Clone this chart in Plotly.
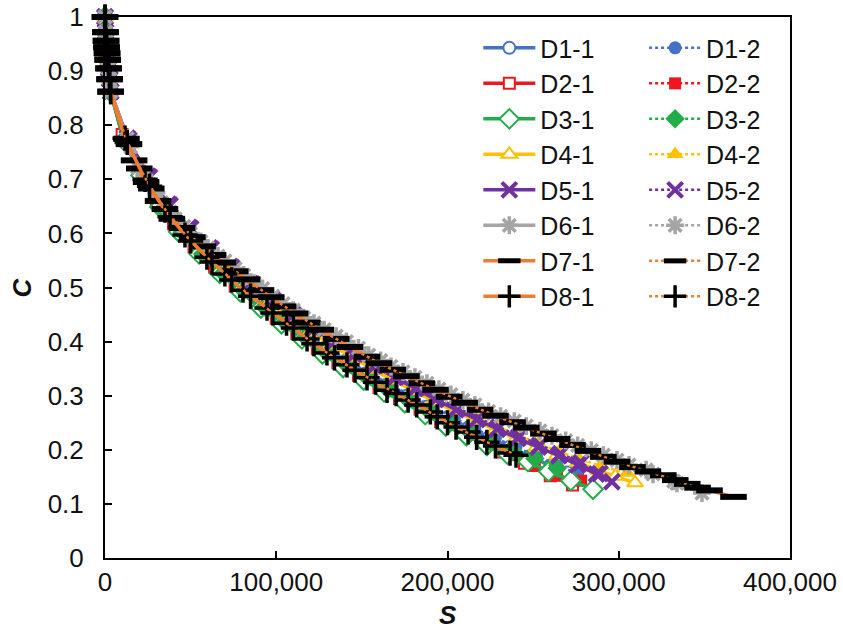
import plotly.graph_objects as go

# shared start of every curve (S close to 0)
head_s = [0, 300, 600, 900, 1200, 1600, 2100, 2700, 3300]
head_c = [1.0, 0.972, 0.956, 0.944, 0.933, 0.921, 0.905, 0.885, 0.862]

d1_1_s = [11000, 22000, 33000, 44000, 56000, 68000, 80000, 92000, 104000, 116000, 128000, 140000,
          152000, 164000, 176000, 188000, 200000, 212000, 224000, 236000, 248000, 260000, 270000]
d1_1_c = [0.772, 0.702, 0.650, 0.607, 0.567, 0.531, 0.498, 0.468, 0.440, 0.413, 0.388, 0.364,
          0.341, 0.320, 0.300, 0.280, 0.260, 0.241, 0.223, 0.205, 0.188, 0.171, 0.158]
d1_2_s = [12000, 24000, 36000, 48000, 60000, 72000, 84000, 96000, 108000, 120000, 132000, 144000,
          156000, 168000, 180000, 192000, 204000, 216000, 228000, 240000, 252000, 264000, 276000]
d1_2_c = [0.768, 0.695, 0.642, 0.598, 0.559, 0.524, 0.492, 0.463, 0.435, 0.409, 0.384, 0.361,
          0.339, 0.318, 0.298, 0.278, 0.258, 0.239, 0.222, 0.205, 0.188, 0.171, 0.156]

d2_1_s = [10000, 20000, 30000, 40000, 52000, 64000, 76000, 88000, 100000, 112000, 124000, 136000,
          148000, 160000, 172000, 184000, 196000, 208000, 220000, 232000, 245000, 260000, 273000]
d2_1_c = [0.783, 0.715, 0.662, 0.618, 0.575, 0.538, 0.503, 0.472, 0.443, 0.415, 0.387, 0.361,
          0.338, 0.315, 0.295, 0.275, 0.252, 0.232, 0.214, 0.196, 0.175, 0.152, 0.135]
d2_2_s = [13000, 24000, 35000, 46000, 58000, 70000, 82000, 94000, 106000, 118000, 130000, 142000,
          154000, 166000, 178000, 190000, 202000, 214000, 226000, 238000, 251000, 264000, 278000]
d2_2_c = [0.770, 0.697, 0.643, 0.600, 0.560, 0.525, 0.492, 0.462, 0.434, 0.406, 0.378, 0.355,
          0.331, 0.310, 0.290, 0.268, 0.247, 0.228, 0.210, 0.190, 0.170, 0.152, 0.143]

d3_1_s = [11000, 21000, 32000, 43000, 55000, 67000, 79000, 91000, 103000, 115000, 127000, 139000,
          151000, 163000, 175000, 187000, 199000, 211000, 223000, 235000, 247000, 259000, 272000, 285000]
d3_1_c = [0.772, 0.707, 0.649, 0.603, 0.562, 0.526, 0.492, 0.462, 0.433, 0.405, 0.377, 0.352,
          0.329, 0.307, 0.287, 0.265, 0.244, 0.226, 0.208, 0.192, 0.178, 0.160, 0.143, 0.127]
d3_2_s = [12000, 23000, 34000, 45000, 57000, 69000, 81000, 93000, 105000, 117000, 129000, 141000,
          153000, 165000, 177000, 189000, 201000, 213000, 225000, 238000, 251000, 264000]
d3_2_c = [0.770, 0.700, 0.645, 0.602, 0.562, 0.527, 0.494, 0.464, 0.436, 0.408, 0.381, 0.357,
          0.334, 0.312, 0.292, 0.272, 0.252, 0.233, 0.215, 0.198, 0.184, 0.166]

d4_1_s = [12000, 24000, 36000, 48000, 60000, 72000, 84000, 96000, 108000, 120000, 132000, 144000,
          156000, 168000, 180000, 192000, 204000, 216000, 228000, 240000, 252000, 264000, 276000,
          288000, 298000, 309500]
d4_1_c = [0.775, 0.702, 0.648, 0.604, 0.566, 0.532, 0.500, 0.471, 0.444, 0.418, 0.394, 0.371,
          0.349, 0.329, 0.309, 0.290, 0.272, 0.254, 0.237, 0.221, 0.205, 0.190, 0.176,
          0.162, 0.151, 0.139]
d4_2_s = [13000, 25000, 37000, 49000, 61000, 73000, 85000, 97000, 109000, 121000, 133000, 145000,
          157000, 169000, 181000, 193000, 205000, 217000, 229000, 241000, 253000, 265000, 277000,
          290000, 305000]
d4_2_c = [0.770, 0.698, 0.646, 0.603, 0.565, 0.531, 0.500, 0.471, 0.444, 0.419, 0.395, 0.372,
          0.351, 0.331, 0.312, 0.294, 0.276, 0.259, 0.243, 0.227, 0.212, 0.197, 0.183,
          0.170, 0.157]

d5_1_s = [13000, 25000, 37000, 49000, 61000, 73000, 85000, 97000, 109000, 121000, 133000, 145000,
          157000, 169000, 181000, 193000, 205000, 217000, 229000, 241000, 253000, 265000, 276000,
          287000, 296000]
d5_1_c = [0.776, 0.706, 0.654, 0.611, 0.573, 0.539, 0.507, 0.478, 0.451, 0.425, 0.400, 0.377,
          0.355, 0.334, 0.313, 0.293, 0.274, 0.256, 0.238, 0.221, 0.205, 0.189, 0.172,
          0.155, 0.141]
d5_2_s = [14000, 26000, 38000, 50000, 62000, 74000, 86000, 98000, 110000, 122000, 134000, 146000,
          158000, 170000, 182000, 194000, 206000, 218000, 230000, 242000, 254000, 266000, 278000, 289000]
d5_2_c = [0.773, 0.704, 0.652, 0.609, 0.571, 0.537, 0.506, 0.477, 0.450, 0.424, 0.400, 0.377,
          0.356, 0.335, 0.315, 0.296, 0.277, 0.259, 0.242, 0.225, 0.209, 0.193, 0.176, 0.156]

d6_1_s = [13000, 19000, 26000, 33000, 41000, 50000, 60000, 70000, 81000, 92000, 104000, 116000,
          128000, 141000, 154000, 167000, 181000, 195000, 209000, 224000, 239000, 254000, 269000,
          284000, 299000, 316000, 332000, 348600]
d6_1_c = [0.775, 0.722, 0.690, 0.657, 0.627, 0.600, 0.573, 0.549, 0.523, 0.498, 0.470, 0.444,
          0.422, 0.400, 0.375, 0.354, 0.334, 0.312, 0.292, 0.271, 0.253, 0.235, 0.217,
          0.199, 0.181, 0.163, 0.142, 0.120]
d6_2_s = [15000, 23000, 30000, 38000, 46000, 56000, 66000, 76000, 87000, 98000, 110000, 122000,
          135000, 148000, 161000, 174000, 188000, 202000, 216000, 231000, 246000, 261000, 276000,
          291000, 306000, 320000, 334000]
d6_2_c = [0.760, 0.707, 0.675, 0.640, 0.613, 0.585, 0.558, 0.535, 0.508, 0.484, 0.458, 0.434,
          0.410, 0.388, 0.365, 0.344, 0.323, 0.302, 0.283, 0.262, 0.244, 0.226, 0.208,
          0.190, 0.172, 0.155, 0.138]

d7_1_s = [12500, 17000, 24000, 31000, 39000, 51000, 63000, 76000, 91000, 104000, 118000, 135000,
          153000, 168000, 185000, 201000, 219000, 238000, 256000, 273000, 291000, 308000, 326000,
          340000, 353000, 367000]
d7_1_c = [0.775, 0.735, 0.695, 0.660, 0.627, 0.593, 0.560, 0.530, 0.495, 0.465, 0.435, 0.405,
          0.372, 0.348, 0.323, 0.298, 0.274, 0.251, 0.230, 0.209, 0.187, 0.168, 0.153,
          0.137, 0.125, 0.113]
d7_2_s = [14000, 20000, 27000, 35000, 45000, 57000, 69000, 83000, 97000, 111000, 126000, 143000,
          160000, 176000, 193000, 210000, 228000, 246000, 264000, 282000, 299000, 317000, 333000, 346000]
d7_2_c = [0.765, 0.720, 0.683, 0.645, 0.610, 0.576, 0.546, 0.515, 0.482, 0.452, 0.422, 0.390,
          0.360, 0.336, 0.311, 0.287, 0.263, 0.241, 0.220, 0.198, 0.178, 0.160, 0.144, 0.130]

d8_1_s = [11700, 23400, 35000, 46700, 59500, 70000, 80600, 94600, 106000, 118000, 129600, 141300,
          153000, 164700, 177000, 190000, 200000, 212000, 223000, 236500]
d8_1_c = [0.776, 0.700, 0.643, 0.597, 0.556, 0.525, 0.495, 0.462, 0.434, 0.405, 0.379, 0.357,
          0.333, 0.310, 0.292, 0.270, 0.250, 0.233, 0.214, 0.194]
d8_2_s = [13000, 26000, 38000, 50000, 62500, 74000, 85000, 98000, 110000, 122000, 134000, 146000,
          158000, 170000, 182000, 194000, 205000, 217000, 228000, 240000]
d8_2_c = [0.768, 0.687, 0.631, 0.586, 0.547, 0.514, 0.484, 0.453, 0.425, 0.396, 0.370, 0.347,
          0.325, 0.304, 0.283, 0.261, 0.242, 0.223, 0.207, 0.190]

blue = "#4472C4"
red = "#F0161E"
green = "#22AD4A"
yellow = "#FFC000"
purple = "#7030A0"
grey = "#A5A5A5"
orange = "#ED7D31"

# name, s, c, line colour, symbol, marker fill, marker line colour, size, marker line width
series = [
    ("D1-1", d1_1_s, d1_1_c, blue, "circle", "white", blue, 12, 2),
    ("D1-2", d1_2_s, d1_2_c, blue, "circle", blue, blue, 13, 0),
    ("D2-1", d2_1_s, d2_1_c, red, "square", "white", red, 11, 2),
    ("D2-2", d2_2_s, d2_2_c, red, "square", red, red, 12, 0),
    ("D3-1", d3_1_s, d3_1_c, green, "diamond", "white", green, 15, 2),
    ("D3-2", d3_2_s, d3_2_c, green, "diamond", green, green, 15, 0),
    ("D4-1", d4_1_s, d4_1_c, yellow, "triangle-up", "white", yellow, 14, 2),
    ("D4-2", d4_2_s, d4_2_c, yellow, "triangle-up", yellow, yellow, 15, 0),
    ("D5-1", d5_1_s, d5_1_c, purple, "x-thin-open", purple, purple, 15, 4),
    ("D5-2", d5_2_s, d5_2_c, purple, "x-thin-open", purple, purple, 15, 4),
    ("D6-1", d6_1_s, d6_1_c, grey, "asterisk-open", grey, grey, 15, 3.5),
    ("D6-2", d6_2_s, d6_2_c, grey, "asterisk-open", grey, grey, 15, 3.5),
    ("D7-1", d7_1_s, d7_1_c, orange, "line-ew-open", "black", "black", 19, 6),
    ("D7-2", d7_2_s, d7_2_c, orange, "line-ew-open", "black", "black", 19, 6),
    ("D8-1", d8_1_s, d8_1_c, orange, "cross-thin-open", "black", "black", 18, 3.5),
    ("D8-2", d8_2_s, d8_2_c, orange, "cross-thin-open", "black", "black", 18, 3.5),
]

fig = go.Figure()
for name, s, c, col, sym, fill, mline, size, mlw in series:
    dotted = name.endswith("-2")
    fig.add_trace(go.Scatter(
        x=head_s + s, y=head_c + c, name=name, mode="lines+markers",
        line=dict(color=col, width=2.5 if dotted else 3.5, dash="dot" if dotted else "solid"),
        marker=dict(symbol=sym, size=size, color=fill, line=dict(color=mline, width=mlw)),
        cliponaxis=False,
        legend="legend2" if dotted else "legend",
    ))

font = "Arial, Liberation Sans, sans-serif"
leg = dict(xanchor="left", yanchor="top", bgcolor="rgba(0,0,0,0)",
           font=dict(size=25), itemsizing="trace", itemwidth=52, tracegroupgap=0)
fig.update_layout(
    width=843, height=640,
    margin=dict(l=105, r=53, t=17, b=82),
    plot_bgcolor="white", paper_bgcolor="white",
    font=dict(family=font, size=26, color="#111"),
    legend=dict(x=0.545, y=0.985, **leg),
    legend2=dict(x=0.787, y=0.985, **leg),
)
fig.update_xaxes(
    range=[0, 400000], dtick=100000, tickformat=",", showgrid=False, zeroline=False,
    showline=True, linecolor="black", linewidth=2, mirror=True, automargin=False,
    ticks="inside", ticklen=7, tickwidth=2, tickcolor="black", ticklabeloverflow="allow",
)
fig.update_yaxes(
    range=[0, 1], dtick=0.1, showgrid=False, zeroline=False,
    showline=True, linecolor="black", linewidth=2, mirror=True, automargin=False,
    ticks="inside", ticklen=7, tickwidth=2, tickcolor="black", ticklabelstandoff=14,
    ticklabeloverflow="allow",
)
fig.add_annotation(text="<b><i>S</i></b>", xref="paper", yref="paper", x=0.5, y=0,
                   xanchor="center", yanchor="middle", yshift=-57,
                   showarrow=False, font=dict(size=26))
fig.add_annotation(text="<b><i>C</i></b>", xref="paper", yref="paper", x=0, y=0.5,
                   xanchor="center", yanchor="middle", xshift=-84, textangle=-90,
                   showarrow=False, font=dict(size=26))

# drop the default 8px page margin so the figure sits at the window's corner
fig.write_html("out.html", config={"displayModeBar": False},
               post_script="document.body.style.margin='0';")
